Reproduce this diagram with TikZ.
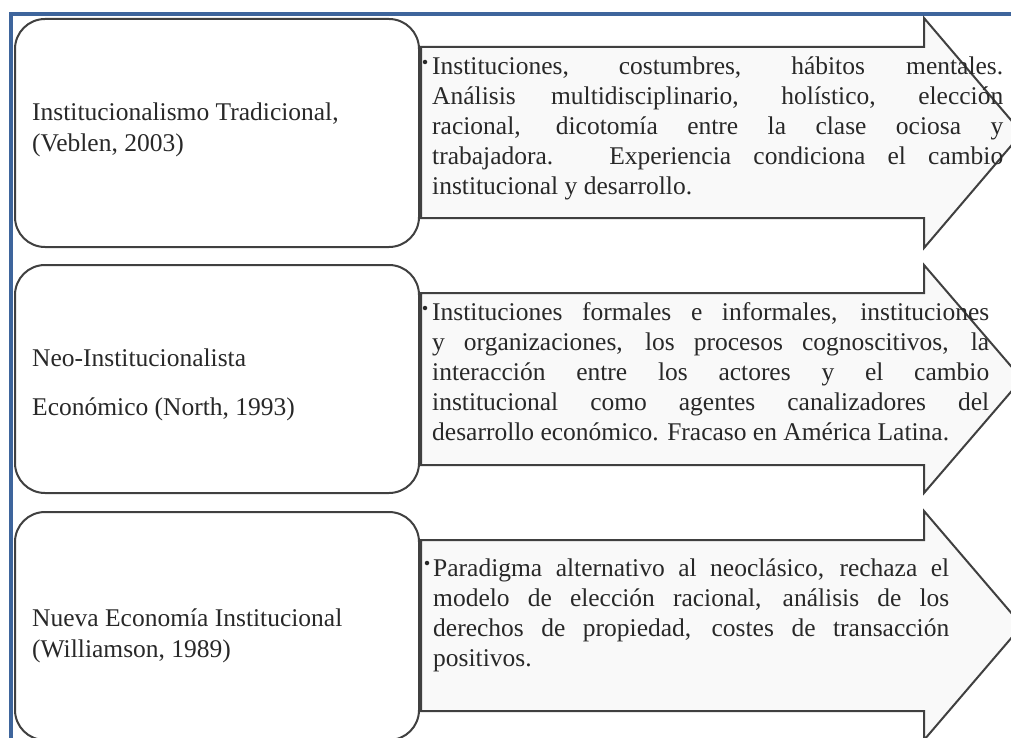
\documentclass[tikz,border=0pt]{standalone}
\usepackage{fontspec}
\setmainfont{Liberation Serif}
\definecolor{frameblue}{RGB}{62,101,156}
\definecolor{edgegray}{RGB}{64,64,64}
\definecolor{arrowfill}{RGB}{249,249,249}
\definecolor{inkgray}{RGB}{40,40,40}
\newcommand{\loosepar}{\tolerance=10000 \hbadness=10000 \relax}
\tikzset{
  namebox/.style={draw=edgegray, line width=2pt, fill=white, rounded corners=30pt},
  arrowbody/.style={draw=edgegray, line width=2pt, fill=arrowfill, line join=miter},
  nametext/.style={anchor=west, inner sep=0pt, align=left, text=inkgray,
    font=\fontsize{25.5}{31}\selectfont},
  desctext/.style={anchor=north west, inner sep=0pt, align=justify, text=inkgray,
    font=\fontsize{25.5}{30}\selectfont},
  bulletdot/.style={circle, fill=inkgray, inner sep=0pt, minimum size=4.5pt},
}
\begin{document}
\begin{tikzpicture}[x=1pt,y=-1pt,line cap=round]
  \useasboundingbox (0,0) rectangle (1011,738);
  \clip (0,0) rectangle (1011,738);
  % blue frame
  \draw[frameblue, line width=4pt, line cap=butt] (11,738) -- (11,14.5) -- (1011,14.5);

  % first row
  \draw[arrowbody] (421,47) -- (924,47) -- (924,18) -- (1022,133) -- (924,248) -- (924,218) -- (421,218) -- cycle;
  \draw[namebox] (15,19) rectangle (419,247);
  \node[nametext] (n1) at (32,130) {Institucionalismo Tradicional,\\(Veblen, 2003)};
  \node[bulletdot] (b1) at (425,62) {};
  \node[desctext, text width=571pt] (d1) at (432,56.6) {\loosepar Instituciones, costumbres, hábitos mentales.\linebreak
    Análisis multidisciplinario, holístico, elección\linebreak
    racional, dicotomía entre la clase ociosa y\linebreak
    trabajadora. Experiencia condiciona el cambio\linebreak
    institucional y desarrollo.};

  % second row
  \draw[arrowbody] (421,293) -- (924,293) -- (924,265) -- (1022,379) -- (924,493) -- (924,465) -- (421,465) -- cycle;
  \draw[namebox] (15,265) rectangle (419,493);
  \node[nametext] (n2) at (32,384.5) {Neo-Institucionalista\\[18pt]Económico (North, 1993)};
  \node[bulletdot] (b2) at (425,308) {};
  \node[desctext, text width=557pt] (d2) at (432,302.6) {\loosepar Instituciones formales e informales, instituciones\linebreak
    y organizaciones, los procesos cognoscitivos, la\linebreak
    interacción entre los actores y el cambio\linebreak
    institucional como agentes canalizadores del\linebreak
    desarrollo económico. Fracaso en América Latina.};

  % third row
  \draw[arrowbody] (421,540) -- (924,540) -- (924,511) -- (1022,625.5) -- (924,740) -- (924,711) -- (421,711) -- cycle;
  \draw[namebox] (15,512) rectangle (419,740);
  \node[nametext] (n3) at (32,636) {Nueva Economía Institucional\\(Williamson, 1989)};
  \node[bulletdot] (b3) at (427,563) {};
  \node[desctext, text width=516pt] (d3) at (433,558.6) {\loosepar Paradigma alternativo al neoclásico, rechaza el\linebreak
    modelo de elección racional, análisis de los\linebreak
    derechos de propiedad, costes de transacción\linebreak
    positivos.};
\end{tikzpicture}
\end{document}
